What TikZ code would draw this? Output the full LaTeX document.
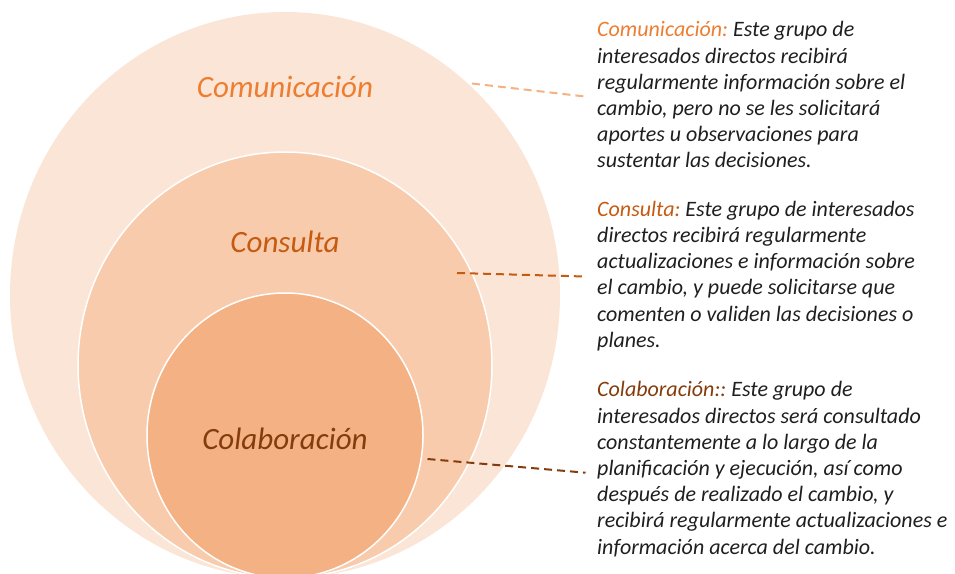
\documentclass[tikz,border=0pt]{standalone}
\usepackage{fontspec}
\setmainfont{Carlito}
\usetikzlibrary{shapes.geometric}
\definecolor{cA}{HTML}{ED7D31}
\definecolor{cB}{HTML}{C55A11}
\definecolor{cC}{HTML}{843C0C}
\definecolor{fA}{HTML}{FBE5D6}
\definecolor{fB}{HTML}{F8CBAD}
\definecolor{fC}{HTML}{F4B183}
\definecolor{txt}{HTML}{1F1F1F}
\frenchspacing
\begin{document}
\begin{tikzpicture}[x=1pt,y=-1pt,
  ring/.style={ellipse,inner sep=0pt,outer sep=0pt},
  ringlabel/.style={anchor=base,inner sep=0pt,font=\fontsize{31}{36}\selectfont\itshape},
  desc/.style={anchor=north west,inner sep=0pt,align=left,text=txt,
    font=\fontsize{22}{26.2}\selectfont\itshape\frenchspacing},
  leader/.style={dash pattern=on 8pt off 5pt,line width=2pt}]
\useasboundingbox (0,0) rectangle (955,573);
\begin{scope}
\clip (0,0) rectangle (955,573);
\node[ring,fill=fA,minimum width=550pt,minimum height=566pt] (outer) at (285,295) {};
\node[ring,fill=fB,draw=white,line width=1.5pt,minimum width=414pt,minimum height=426pt] (middle) at (285,365) {};
\node[ring,fill=fC,draw=white,line width=1.5pt,minimum width=276pt,minimum height=285pt] (inner) at (285,435.5) {};
\end{scope}
\node[ringlabel,text=cA] (lcom) at (285,97) {Comunicación};
\node[ringlabel,text=cB] (lcon) at (285,252) {Consulta};
\node[ringlabel,text=cC] (lcol) at (285,449) {Colaboración};
\node[desc] (dcom) at (597,16.7) {\rule{0pt}{20pt}\textcolor{cA}{Comunicación:} Este grupo de\\
interesados directos recibirá\\
regularmente información sobre el\\
cambio, pero no se les solicitará\\
aportes u observaciones para\\
sustentar las decisiones.};
\node[desc] (dcon) at (597,196) {\rule{0pt}{20pt}\textcolor{cB}{Consulta:} Este grupo de interesados\\
directos recibirá regularmente\\
actualizaciones e información sobre\\
el cambio, y puede solicitarse que\\
comenten o validen las decisiones o\\
planes.};
\node[desc] (dcol) at (597,376.7) {\rule{0pt}{20pt}\textcolor{cC}{Colaboración::} Este grupo de\\
interesados directos será consultado\\
constantemente a lo largo de la\\
planificación y ejecución, así como\\
después de realizado el cambio, y\\
recibirá regularmente actualizaciones e\\
información acerca del cambio.};
\coordinate (s1) at (472,83.5);
\coordinate (e1) at (585,96.5);
\coordinate (s2) at (457,273);
\coordinate (e2) at (585,276.5);
\coordinate (s3) at (427.5,459);
\coordinate (e3) at (585.5,472.7);
\draw[leader,draw=fC] (s1) -- (e1);
\draw[leader,draw=cB] (s2) -- (e2);
\draw[leader,draw=cC] (s3) -- (e3);
\end{tikzpicture}
\end{document}
